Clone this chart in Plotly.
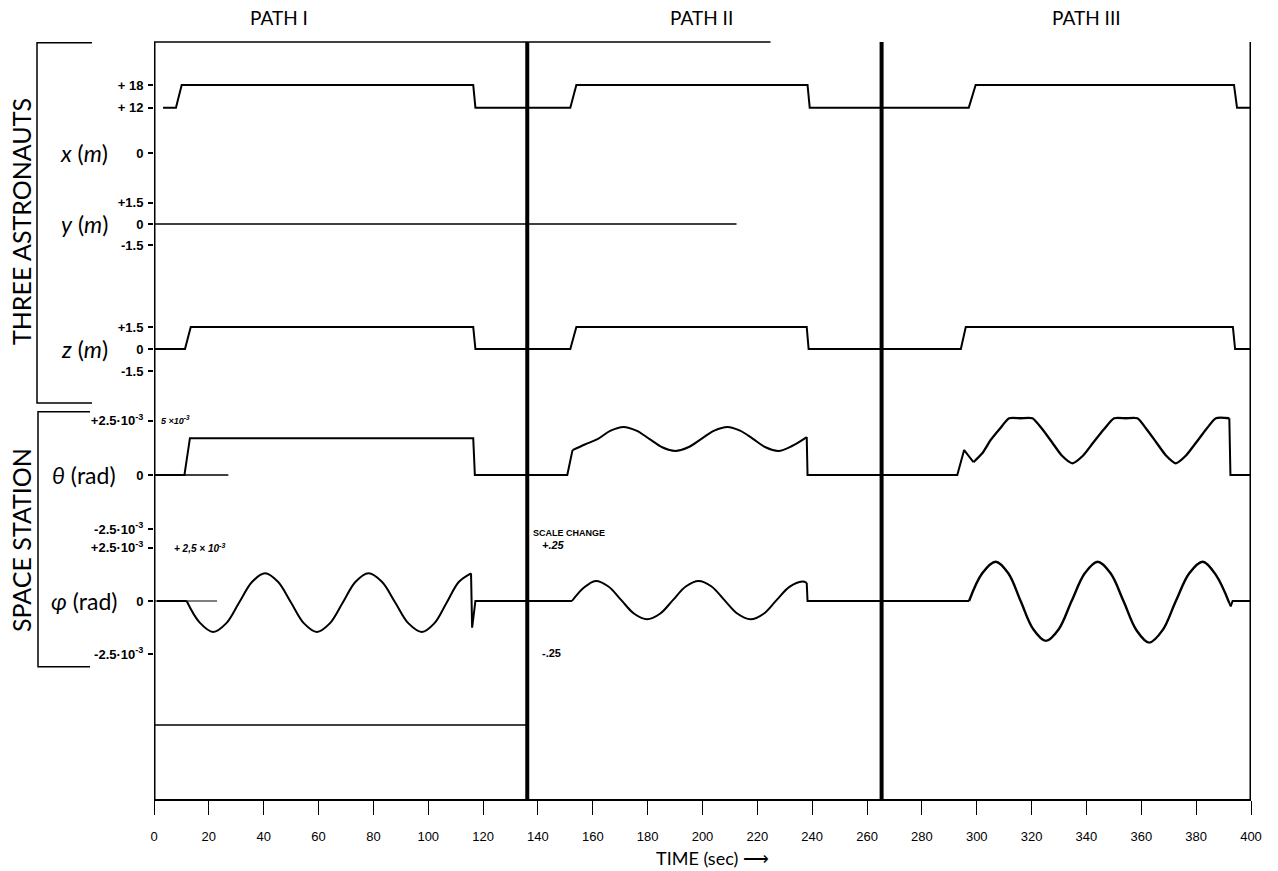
import plotly.graph_objects as go

# ---------------- data (time in s; angles in 1e-3 rad) ----------------
X_T = [3.3, 8.0, 10.1, 116.4, 117.2, 151.8, 154.0, 238.3, 239.1, 297.1, 299.6, 393.8, 394.9, 400]
X_V = [12, 12, 18, 18, 12, 12, 18, 18, 12, 12, 18, 18, 12, 12]

Y_T = [0, 212.4]
Y_V = [0, 0]

Z_T = [0, 11.3, 13.4, 116.4, 117.2, 151.8, 154.0, 238.0, 238.7, 294.2, 296.0, 393.4, 394.2, 400]
Z_V = [0, 0, 1.5, 1.5, 0, 0, 1.5, 1.5, 0, 0, 1.5, 1.5, 0, 0]

TH_LIN_T = [0, 11.1, 13.1, 116.4, 117.0, 150.7, 152.6, None,
            238.0, 238.3, 292.9, 295.4, 298.8, None,
            392.1, 392.5, 400]
TH_LIN_V = [0, 0, 1.70, 1.70, 0, 0, 1.15, None,
            1.75, 0, 0, 1.15, 0.59, None,
            2.62, 0, 0]
TH_BASE_T = [0, 27.1]
TH_BASE_V = [0, 0]
TH2_T = [152.6, 157.3, 161.9, 166.5, 171.2, 175.9, 180.6, 185.3, 190.1, 194.8, 199.6,
         204.3, 209.1, 213.7, 218.4, 223.0, 227.7, 232.8, 238.0]
TH2_V = [1.15, 1.42, 1.67, 2.05, 2.22, 2.05, 1.67, 1.28, 1.11, 1.28, 1.67,
         2.05, 2.22, 2.05, 1.67, 1.28, 1.11, 1.35, 1.75]
TH3_T = [298.8, 302.0, 305.1, 308.5, 311.8, 316.0, 320.3, 324.0, 327.5, 331.0, 334.9,
         338.8, 342.5, 346.3, 350.1, 354.3, 358.6, 362.0, 365.5, 369.0, 372.6,
         376.3, 380.0, 383.6, 387.2, 392.1]
TH3_V = [0.59, 1.00, 1.62, 2.15, 2.62, 2.62, 2.62, 2.10, 1.50, 0.90, 0.54,
         0.90, 1.50, 2.10, 2.62, 2.62, 2.62, 2.10, 1.50, 0.90, 0.54,
         0.90, 1.50, 2.10, 2.62, 2.62]

PHI_LIN_T = [1.1, 11.9, None,
             115.6, 116.0, 117.2, 152.4, None,
             238.0, 238.3, 297.2, None,
             392.1, 392.6, 393.3, 400]
PHI_LIN_V = [0, 0, None,
             1.30, -1.25, 0, 0, None,
             0.85, 0, 0, None,
             -0.10, -0.25, 0, 0]
PHI_BASE_T = [0, 23.0]
PHI_BASE_V = [0, 0]
PHI1_T = [11.9, 16.6, 21.6, 26.3, 31.0, 35.8, 40.5, 45.2, 50.0, 54.7, 59.4, 64.1,
          68.8, 73.5, 78.2, 83.1, 88.0, 92.8, 97.7, 102.2, 106.7, 111.2, 115.6]
PHI1_V = [0, -1.00, -1.45, -1.05, -0.08, 0.90, 1.30, 0.90, -0.08, -1.05, -1.45, -1.05,
          -0.08, 0.90, 1.30, 0.90, -0.08, -1.05, -1.45, -1.05, -0.08, 0.90, 1.30]
PHI2_T = [152.4, 156.7, 161.0, 165.7, 170.4, 175.1, 179.8, 184.5, 189.2, 193.9, 198.6,
          203.3, 208.0, 212.8, 217.5, 222.3, 227.0, 231.7, 236.4, 238.0]
PHI2_V = [0, 0.62, 0.94, 0.68, 0.04, -0.60, -0.86, -0.60, 0.04, 0.68, 0.94,
          0.68, 0.04, -0.60, -0.86, -0.60, 0.04, 0.66, 0.91, 0.85]
PHI3_T = [297.2, 302.0, 306.9, 311.5, 316.0, 320.6, 325.2, 329.9, 334.6, 339.4, 344.1,
          348.8, 353.5, 358.2, 362.9, 367.8, 372.6, 377.5, 382.4, 387.3, 392.1]
PHI3_V = [0, 1.30, 1.84, 1.30, 0, -1.32, -1.87, -1.32, 0, 1.30, 1.84,
          1.30, 0, -1.36, -1.95, -1.36, 0, 1.30, 1.84, 1.20, -0.10]

TIME_TICKS = list(range(0, 401, 20))
PATH_BOUNDS = [136.1, 265.3, 400]
PATH_NAMES = ["PATH I", "PATH II", "PATH III"]
PATH_CENTERS = [45.5, 199.5, 340.0]

POS_TICKS = [18, 12, 0]
POS_TEXT = ["+ 18", "+ 12", "0"]
SMALL_TICKS = [1.5, 0, -1.5]
SMALL_TEXT = ["+1.5", "0", "-1.5"]
ANG_TICKS = [2.5, 0, -2.5]
ANG_TEXT = ["+2.5·10<sup>-3</sup>", "0", "-2.5·10<sup>-3</sup>"]

# ---------------- layout helpers ----------------
W, H = 1278, 871
L, R, T, B = 154, 1251, 42, 800


def px_x(px):
    return (px - L) / (R - L)


def px_y(py):
    return (B - py) / (B - T)


def band(p_zero, ppu, p_top, p_bot):
    return dict(domain=[px_y(p_bot), px_y(p_top)],
                range=[(p_zero - p_bot) / ppu, (p_zero - p_top) / ppu])


TICKFONT = dict(family="Liberation Sans", size=13, color="black", weight="bold")


def yax(b, vals, text):
    d = dict(anchor="x", showgrid=False, zeroline=False, showline=False,
             ticks="outside", ticklen=5, tickwidth=1.5, tickcolor="black",
             tickvals=vals, ticktext=text, tickfont=TICKFONT, ticklabelstandoff=2,
             fixedrange=True)
    d.update(b)
    return d


fig = go.Figure()


def add(t, v, ax, smooth=None, width=2.0):
    line = dict(color="black", width=width)
    if smooth is not None:
        line.update(shape="spline", smoothing=smooth)
    fig.add_trace(go.Scatter(x=t, y=v, yaxis=ax, mode="lines", line=line,
                             connectgaps=False, showlegend=False, hoverinfo="skip"))


add(X_T, X_V, "y")
add(Y_T, Y_V, "y2", width=1.5)
add(Z_T, Z_V, "y3")
add(TH_LIN_T, TH_LIN_V, "y4")
add(TH_BASE_T, TH_BASE_V, "y4", width=1.5)
add(TH2_T, TH2_V, "y4", smooth=1.0)
add(TH3_T, TH3_V, "y4", smooth=0.6, width=2.3)
add(PHI_LIN_T, PHI_LIN_V, "y5")
add(PHI_BASE_T, PHI_BASE_V, "y5", width=1.2)
add(PHI1_T, PHI1_V, "y5", smooth=1.0)
add(PHI2_T, PHI2_V, "y5", smooth=1.0)
add(PHI3_T, PHI3_V, "y5", smooth=1.0, width=2.4)

shapes = []
shapes.append(dict(type="line", xref="x", yref="paper", x0=0, x1=0, y0=0, y1=1,
                   line=dict(color="black", width=3)))
for xb, w in zip(PATH_BOUNDS, [4, 4, 3]):
    shapes.append(dict(type="line", xref="x", yref="paper", x0=xb, x1=xb, y0=0, y1=1,
                       line=dict(color="black", width=w)))
shapes.append(dict(type="line", xref="x", yref="paper", x0=0, x1=224.8, y0=1, y1=1,
                   line=dict(color="black", width=1.5)))
shapes.append(dict(type="line", xref="x", yref="paper", x0=0, x1=136.1,
                   y0=px_y(725), y1=px_y(725), line=dict(color="black", width=1.5)))


def bracket(x_left, x_arm, y_top, y_bot):
    p = "M {a},{t} L {l},{t} L {l},{b} L {a},{b}".format(
        a=px_x(x_arm), l=px_x(x_left), t=px_y(y_top), b=px_y(y_bot))
    return dict(type="path", xref="paper", yref="paper", path=p,
                line=dict(color="black", width=1.5))


shapes.append(bracket(37, 92, 42.7, 403))
shapes.append(bracket(38, 90, 411.7, 666.7))

ann = []


def note(text, xp, yp, font, xanchor="center", yanchor="middle", angle=0):
    ann.append(dict(text=text, x=px_x(xp), xref="paper", y=px_y(yp), yref="paper",
                    showarrow=False, font=font, xanchor=xanchor, yanchor=yanchor,
                    textangle=angle))


for name, c in zip(PATH_NAMES, PATH_CENTERS):
    ann.append(dict(text=name, x=c, xref="x", y=px_y(17), yref="paper", showarrow=False,
                    xanchor="center", yanchor="middle",
                    font=dict(family="Lato", size=19, color="black")))

LBL = dict(family="Lato", size=23, color="black")
for txt, ax in [("<i>x</i> (<i>m</i>)", "y"), ("<i>y</i> (<i>m</i>)", "y2"),
                ("<i>z</i> (<i>m</i>)", "y3"), ("<i>θ</i> (rad)", "y4"),
                ("<i>φ</i> (rad)", "y5")]:
    ann.append(dict(text=txt, x=px_x(84), xref="paper", y=0, yref=ax,
                    showarrow=False, font=LBL, xanchor="center", yanchor="middle"))

GROUP = dict(family="Lato", size=25, color="black")
note("THREE ASTRONAUTS", 21, 222, GROUP, angle=-90)
note("SPACE STATION", 21, 540, GROUP, angle=-90)
note("TIME (sec) ⟶", 712, 858, dict(family="Lato", size=18, color="black"))

note("SCALE CHANGE", 531, 533, dict(family="Liberation Sans", size=9, color="black", weight="bold"),
     xanchor="left")
note("<i>+.25</i>", 540, 545, dict(family="Liberation Sans", size=11, color="black", weight="bold"),
     xanchor="left")
note("-.25", 540, 653, dict(family="Liberation Sans", size=11, color="black", weight="bold"),
     xanchor="left")
note("<i>+ 2,5 × 10<sup>-3</sup></i>", 172, 548,
     dict(family="Liberation Sans", size=10, color="black", weight="bold"), xanchor="left")
note("<i>5 ×10<sup>-3</sup></i>", 159, 420,
     dict(family="Liberation Sans", size=9, color="black", weight="bold"), xanchor="left")

fig.update_layout(
    width=W, height=H,
    margin=dict(l=L, r=W - R, t=T, b=H - B, pad=0),
    paper_bgcolor="white", plot_bgcolor="white",
    showlegend=False,
    xaxis=dict(range=[0, 400], anchor="free", position=0, showgrid=False, zeroline=False,
               showline=True, linewidth=2, linecolor="black", ticks="outside", ticklen=14,
               tickwidth=1, tickcolor="black", tickvals=TIME_TICKS,
               tickfont=dict(family="Liberation Sans", size=13, color="black"),
               ticklabelstandoff=10, fixedrange=True),
    yaxis=yax(band(153, 3.78, 44, 160), POS_TICKS, POS_TEXT),
    yaxis2=yax(band(224, 14.3, 165, 262), SMALL_TICKS, SMALL_TEXT),
    yaxis3=yax(band(349, 14.67, 264, 400), SMALL_TICKS, SMALL_TEXT),
    yaxis4=yax(band(475, 21.66, 402, 540), ANG_TICKS, ANG_TEXT),
    yaxis5=yax(band(601, 21.34, 542, 799), ANG_TICKS, ANG_TEXT),
    shapes=shapes, annotations=ann,
)

fig.write_html("out.html")
